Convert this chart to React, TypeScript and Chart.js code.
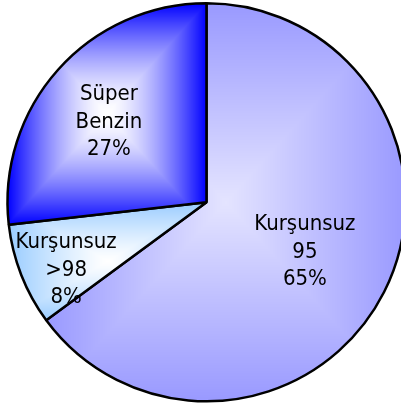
import React, { useEffect, useRef } from "react";
import { Chart, registerables } from "chart.js";

Chart.register(...registerables);

const categories = ["Kurşunsuz\n95", "Kurşunsuz\n>98", "Süper\nBenzin"];
const shares = [64.9, 8.3, 26.8];
const edgeColors = ["#9999FF", "#99CCFF", "#0000FF"];
const centerColors = ["#E4E4FF", "#FFFFFF", "#FFFFFF"];
const gradientCurve = [1.0, 1.2, 1.5];
const labelRadius = [0.554, 0.783, 0.635];
const labelAngleShift = [0, -4.3, -2.3];

function hexToRgb(h: string) {
  const n = parseInt(h.slice(1), 16);
  return [(n >> 16) & 255, (n >> 8) & 255, n & 255];
}

function makeRectGradient(
  W: number,
  H: number,
  box: { x0: number; y0: number; x1: number; y1: number },
  inner: string,
  outer: string,
  curve: number,
  ctx: CanvasRenderingContext2D
) {
  const off = document.createElement("canvas");
  off.width = W;
  off.height = H;
  const octx = off.getContext("2d")!;
  const img = octx.createImageData(W, H);
  const a = hexToRgb(inner);
  const b = hexToRgb(outer);
  const cx = (box.x0 + box.x1) / 2;
  const cy = (box.y0 + box.y1) / 2;
  const hw = Math.max((box.x1 - box.x0) / 2, 1);
  const hh = Math.max((box.y1 - box.y0) / 2, 1);
  for (let y = 0; y < H; y++) {
    for (let x = 0; x < W; x++) {
      let t = Math.max(Math.abs(x + 0.5 - cx) / hw, Math.abs(y + 0.5 - cy) / hh);
      if (t > 1) t = 1;
      t = Math.pow(t, curve);
      const i = (y * W + x) * 4;
      img.data[i] = Math.round(a[0] + (b[0] - a[0]) * t);
      img.data[i + 1] = Math.round(a[1] + (b[1] - a[1]) * t);
      img.data[i + 2] = Math.round(a[2] + (b[2] - a[2]) * t);
      img.data[i + 3] = 255;
    }
  }
  octx.putImageData(img, 0, 0);
  return ctx.createPattern(off, "no-repeat");
}

const labelPlugin = {
  id: "sliceLabels",
  afterDatasetsDraw(chart: any) {
    const ctx = chart.ctx as CanvasRenderingContext2D;
    const meta = chart.getDatasetMeta(0);
    const total = shares.reduce((s, v) => s + v, 0);
    ctx.save();
    ctx.font = '22px "DejaVu Sans Condensed", "DejaVu Sans", sans-serif';
    ctx.fillStyle = "#000";
    ctx.textAlign = "center";
    ctx.textBaseline = "middle";
    meta.data.forEach((arc: any, i: number) => {
      const { x, y, startAngle, endAngle, outerRadius } = arc.getProps(
        ["x", "y", "startAngle", "endAngle", "outerRadius"],
        true
      );
      const mid = (startAngle + endAngle) / 2 + (labelAngleShift[i] * Math.PI) / 180;
      const r = outerRadius * labelRadius[i];
      const lx = x + Math.cos(mid) * r;
      const ly = y + Math.sin(mid) * r;
      const lines = categories[i].split("\n");
      lines.push(Math.round((shares[i] / total) * 100) + "%");
      const lh = 27.5;
      const top = ly - ((lines.length - 1) * lh) / 2;
      lines.forEach((ln, k) => ctx.fillText(ln, lx, top + k * lh));
    });
    ctx.restore();
  },
};

export default function App() {
  const ref = useRef<HTMLCanvasElement | null>(null);
  useEffect(() => {
    const canvas = ref.current!;
    const chart = new Chart(canvas, {
      type: "pie",
      data: {
        labels: categories,
        datasets: [
          {
            data: shares,
            backgroundColor: edgeColors,
            borderColor: "#000",
            borderWidth: 2.5,
          },
        ],
      },
      options: {
        responsive: false,
        maintainAspectRatio: false,
        animation: false,
        events: [],
        layout: { padding: { top: 2, bottom: 3.5, left: 0, right: 0 } },
        plugins: { legend: { display: false }, tooltip: { enabled: false } },
      },
      plugins: [labelPlugin],
    });
    const meta = chart.getDatasetMeta(0);
    const W = canvas.width;
    const H = canvas.height;
    const patterns = meta.data.map((arc: any, i: number) => {
      const { x, y, startAngle, endAngle, outerRadius } = arc.getProps(
        ["x", "y", "startAngle", "endAngle", "outerRadius"],
        true
      );
      let x0 = x, x1 = x, y0 = y, y1 = y;
      const steps = 200;
      for (let k = 0; k <= steps; k++) {
        const ang = startAngle + ((endAngle - startAngle) * k) / steps;
        const px = x + Math.cos(ang) * outerRadius;
        const py = y + Math.sin(ang) * outerRadius;
        x0 = Math.min(x0, px); x1 = Math.max(x1, px);
        y0 = Math.min(y0, py); y1 = Math.max(y1, py);
      }
      return makeRectGradient(W, H, { x0, y0, x1, y1 }, centerColors[i], edgeColors[i], gradientCurve[i], chart.ctx);
    });
    (chart.data.datasets[0] as any).backgroundColor = patterns;
    chart.update("none");
    return () => chart.destroy();
  }, []);
  return (
    <div
      style={{
        position: "fixed",
        left: 0,
        top: 0,
        width: 401,
        height: 406,
        overflow: "hidden",
        background: "#fff",
      }}
    >
      <canvas ref={ref} width={413} height={406} style={{ display: "block" }} />
    </div>
  );
}
